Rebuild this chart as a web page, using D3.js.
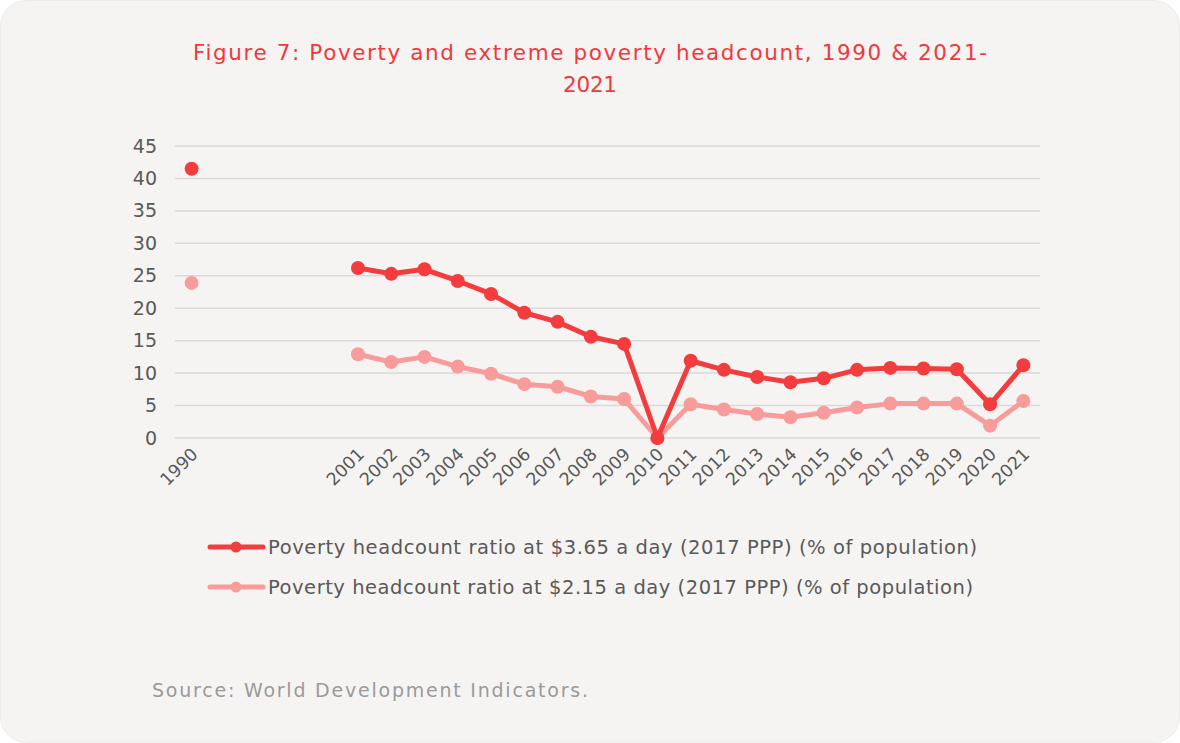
<!DOCTYPE html>
<html>
<head>
<meta charset="utf-8">
<script src="https://cdn.jsdelivr.net/npm/d3@7"></script>
<style>
  body { margin: 0; background: #ffffff; }
  svg { display: block; font-family: "DejaVu Sans", "Noto Sans", sans-serif; }
</style>
</head>
<body>
<div id="chart"></div>
<script>
// categories (four empty slots between 1990 and 2001, as in the source sheet)
let years = ['1990', '', ' ', '  ', '   ',
  '2001', '2002', '2003', '2004', '2005', '2006', '2007', '2008', '2009', '2010',
  '2011', '2012', '2013', '2014', '2015', '2016', '2017', '2018', '2019', '2020', '2021'];

// Poverty headcount ratio at $3.65 a day
let povertyValues = [41.5, null, null, null, null,
  26.2, 25.3, 26.0, 24.2, 22.2, 19.3, 17.9, 15.6, 14.5, 0,
  11.9, 10.5, 9.4, 8.6, 9.2, 10.5, 10.8, 10.7, 10.6, 5.2, 11.2];

// Poverty headcount ratio at $2.15 a day
let extremeValues = [23.9, null, null, null, null,
  12.9, 11.7, 12.5, 11.0, 9.9, 8.3, 7.9, 6.4, 6.0, 0,
  5.2, 4.4, 3.7, 3.2, 3.9, 4.7, 5.3, 5.3, 5.3, 1.9, 5.7];

let yTicks = [0, 5, 10, 15, 20, 25, 30, 35, 40, 45];

let seriesNames = [
  'Poverty headcount ratio at $3.65 a day (2017 PPP) (% of population)',
  'Poverty headcount ratio at $2.15 a day (2017 PPP) (% of population)'
];

let width = 1180, height = 743;
let red = '#f23c3e', pink = '#f79b9b';

let svg = d3.select('#chart')
  .append('svg')
  .attr('width', width)
  .attr('height', height);

// card
svg.append('rect')
  .attr('x', 0.5).attr('y', 0.5)
  .attr('width', width - 1).attr('height', height - 1)
  .attr('rx', 26)
  .attr('fill', '#f6f4f2')
  .attr('stroke', '#ecebea');

// title
let title = svg.append('text')
  .attr('text-anchor', 'middle')
  .attr('fill', '#f0393d')
  .style('font-size', '21.5px');
title.append('tspan').attr('x', 590).attr('y', 60)
  .attr('textLength', 794).attr('lengthAdjust', 'spacing')
  .text('Figure 7: Poverty and extreme poverty headcount, 1990 & 2021-');
title.append('tspan').attr('x', 590).attr('y', 92)
  .attr('textLength', 54).attr('lengthAdjust', 'spacing')
  .text('2021');

let plot = {left: 175, right: 1040, top: 146, bottom: 438};

let x = d3.scaleBand()
  .domain(years)
  .range([plot.left, plot.right]);

let y = d3.scaleLinear()
  .domain([0, 45])
  .range([plot.bottom, plot.top]);

let cx = d => x(d) + x.bandwidth() / 2;

// gridlines
svg.append('g')
  .selectAll('line')
  .data(yTicks)
  .join('line')
  .attr('x1', plot.left).attr('x2', plot.right)
  .attr('y1', d => y(d)).attr('y2', d => y(d))
  .attr('stroke', '#d9d9d9')
  .attr('stroke-width', 1.5);

// y axis
let yAxis = svg.append('g')
  .attr('transform', `translate(${plot.left - 18},0)`)
  .call(d3.axisLeft(y).tickValues(yTicks).tickSize(0).tickPadding(0));
yAxis.select('.domain').remove();
yAxis.selectAll('text')
  .attr('fill', '#595959')
  .style('font-size', '19px')
  .style('font-family', '"DejaVu Sans", sans-serif');

// x axis
let xAxis = svg.append('g')
  .attr('transform', `translate(0,${plot.bottom})`)
  .call(d3.axisBottom(x).tickSize(0).tickPadding(0));
xAxis.select('.domain').remove();
xAxis.selectAll('text')
  .attr('fill', '#595959')
  .style('font-size', '17.5px')
  .style('font-family', '"DejaVu Sans", sans-serif')
  .attr('text-anchor', 'end')
  .attr('dy', '0.35em')
  .attr('transform', 'translate(3,13) rotate(-45)');

function drawSeries(values, colour) {
  let pts = years.map((yr, i) => ({yr: yr, v: values[i]}));
  let line = d3.line()
    .defined(d => d.v !== null)
    .x(d => cx(d.yr))
    .y(d => y(d.v));
  svg.append('path')
    .datum(pts)
    .attr('d', line)
    .attr('fill', 'none')
    .attr('stroke', colour)
    .attr('stroke-width', 5)
    .attr('stroke-linejoin', 'round');
  svg.append('g')
    .selectAll('circle')
    .data(pts.filter(d => d.v !== null))
    .join('circle')
    .attr('cx', d => cx(d.yr))
    .attr('cy', d => y(d.v))
    .attr('r', 7)
    .attr('fill', colour);
}

drawSeries(extremeValues, pink);
drawSeries(povertyValues, red);

// legend
let legend = svg.append('g');
let legendColours = [red, pink];
let legendWidths = [709, 705];
seriesNames.forEach(function(name, i) {
  let ly = 547 + i * 40;
  legend.append('line')
    .attr('x1', 210).attr('x2', 263)
    .attr('y1', ly).attr('y2', ly)
    .attr('stroke', legendColours[i])
    .attr('stroke-width', 5)
    .attr('stroke-linecap', 'round');
  legend.append('circle')
    .attr('cx', 236).attr('cy', ly).attr('r', 5.5)
    .attr('fill', legendColours[i]);
  legend.append('text')
    .attr('x', 268).attr('y', ly)
    .attr('dy', '0.35em')
    .attr('fill', '#595959')
    .attr('textLength', legendWidths[i])
    .attr('lengthAdjust', 'spacing')
    .style('font-size', '19.5px')
    .text(name);
});

// source
svg.append('text')
  .attr('x', 152).attr('y', 697)
  .attr('fill', '#9a9a9a')
  .attr('textLength', 436)
  .attr('lengthAdjust', 'spacing')
  .style('font-size', '19px')
  .text('Source: World Development Indicators.');
</script>
</body>
</html>
